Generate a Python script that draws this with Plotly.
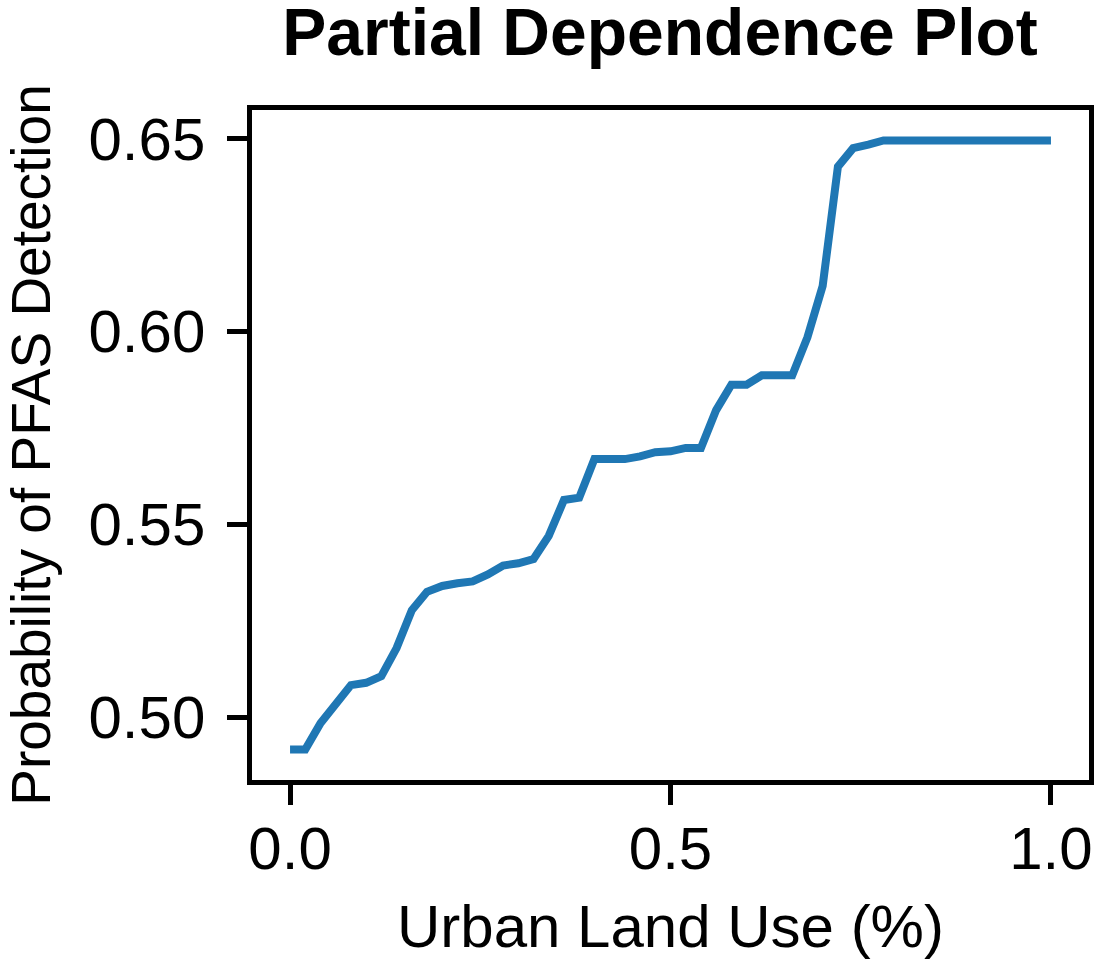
import plotly.graph_objects as go

# Partial dependence of PFAS detection probability on urban land use
urban_land_use = [
    0.00, 0.02, 0.04, 0.06, 0.08, 0.10, 0.12, 0.14, 0.16, 0.18,
    0.20, 0.22, 0.24, 0.26, 0.28, 0.30, 0.32, 0.34, 0.36, 0.38,
    0.40, 0.42, 0.44, 0.46, 0.48, 0.50, 0.52, 0.54, 0.56, 0.58,
    0.60, 0.62, 0.64, 0.66, 0.68, 0.70, 0.72, 0.74, 0.76, 0.78,
    0.80, 0.82, 0.84, 0.86, 0.88, 0.90, 0.92, 0.94, 0.96, 0.98,
    1.00,
]
pfas_probability = [
    0.4916, 0.4916, 0.4984, 0.5033, 0.5083, 0.5089, 0.5106, 0.5179, 0.5277, 0.5325,
    0.5340, 0.5347, 0.5352, 0.5370, 0.5393, 0.5399, 0.5410, 0.5470, 0.5563, 0.5569,
    0.5669, 0.5669, 0.5669, 0.5676, 0.5687, 0.5689, 0.5698, 0.5698, 0.5796, 0.5862,
    0.5862, 0.5886, 0.5886, 0.5886, 0.5985, 0.6118, 0.6427, 0.6475, 0.6484, 0.6495,
    0.6495, 0.6495, 0.6495, 0.6495, 0.6495, 0.6495, 0.6495, 0.6495, 0.6495, 0.6495,
    0.6495,
]

x_ticks = [0.0, 0.5, 1.0]
y_ticks = [0.50, 0.55, 0.60, 0.65]

FONT = "Liberation Sans, Arial, Helvetica, sans-serif"

# 5% padding around the data, as in a default matplotlib axes
x_pad = 0.05 * (max(urban_land_use) - min(urban_land_use))
y_pad = 0.05 * (max(pfas_probability) - min(pfas_probability))

fig = go.Figure(
    go.Scatter(
        x=urban_land_use,
        y=pfas_probability,
        mode="lines",
        line=dict(color="#1f77b4", width=8),
        hoverinfo="skip",
    )
)

axis_common = dict(
    showline=True,
    linecolor="black",
    linewidth=4.5,
    mirror=True,
    showgrid=False,
    zeroline=False,
    ticks="outside",
    ticklen=20,
    tickwidth=4.5,
    tickcolor="black",
    tickfont=dict(family=FONT, size=60, color="black"),
)

fig.update_xaxes(
    range=[min(urban_land_use) - x_pad, max(urban_land_use) + x_pad],
    tickvals=x_ticks,
    tickformat=".1f",
    ticklabelstandoff=-8,
    title=dict(text="Urban Land Use (%)", font=dict(family=FONT, size=60, color="black"), standoff=26),
    **axis_common,
)
fig.update_yaxes(
    range=[min(pfas_probability) - y_pad, max(pfas_probability) + y_pad],
    tickvals=y_ticks,
    tickformat=".2f",
    ticklabelstandoff=10,
    title=dict(text="Probability of PFAS Detection", font=dict(family=FONT, size=55, color="black"), standoff=22),
    **axis_common,
)

fig.update_layout(
    width=1101,
    height=967,
    margin=dict(l=252, r=12, t=110, b=187, autoexpand=False),
    paper_bgcolor="white",
    plot_bgcolor="white",
    showlegend=False,
    title=dict(
        text="<b>Partial Dependence Plot</b>",
        font=dict(family=FONT, size=66, color="black"),
        xref="paper",
        x=0.4875,
        xanchor="center",
        yref="container",
        y=0.9907,
        yanchor="top",
    ),
)

fig.write_html("out.html")
